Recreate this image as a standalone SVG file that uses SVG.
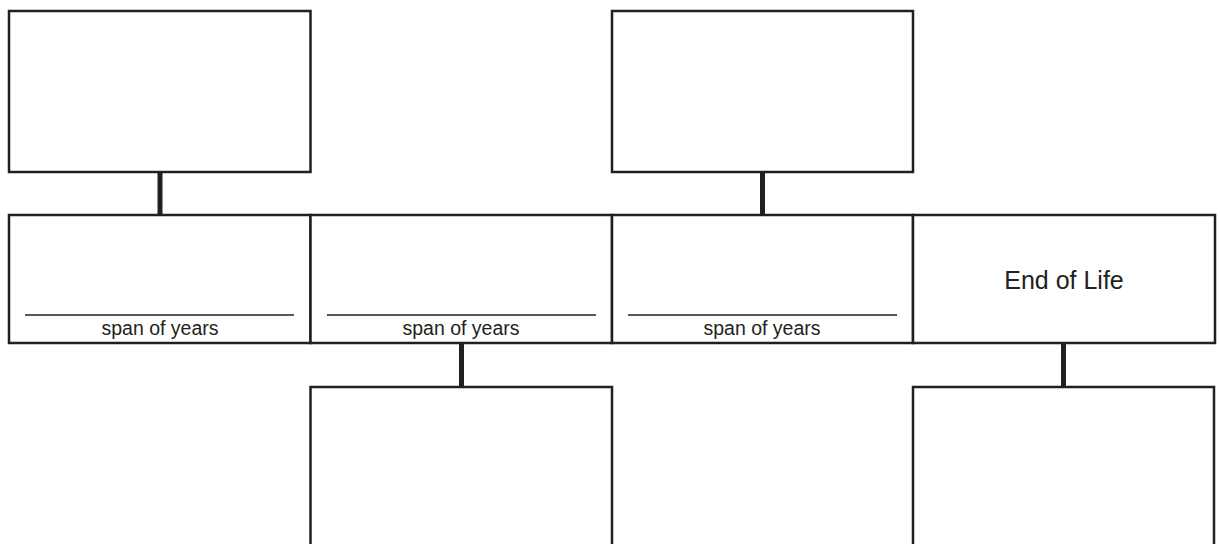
<svg xmlns="http://www.w3.org/2000/svg" width="1220" height="544" viewBox="0 0 1220 544">
<style>
.box{fill:#fff;stroke:#231f20;stroke-width:2.5}
.conn{stroke:#231f20;stroke-width:5}
.line{stroke:#231f20;stroke-width:1.6}
.span{font-family:"Liberation Sans",Arial,sans-serif;font-size:19.5px;fill:#231f20;text-anchor:middle}
.end{font-family:"Liberation Sans",Arial,sans-serif;font-size:25px;fill:#231f20;text-anchor:middle}
</style>
<rect width="1220" height="544" fill="#fff"/>
<g id="connectors">
<line class="conn" x1="160" y1="172" x2="160" y2="215"/>
<line class="conn" x1="762.5" y1="172" x2="762.5" y2="215"/>
<line class="conn" x1="461.5" y1="343" x2="461.5" y2="387"/>
<line class="conn" x1="1063.5" y1="343" x2="1063.5" y2="387"/>
</g>
<g id="top1"><rect class="box" x="9" y="11" width="301.5" height="161"/></g>
<g id="top2"><rect class="box" x="612" y="11" width="301" height="161"/></g>
<g id="period1">
<rect class="box" x="9" y="215" width="301.5" height="128"/>
<line class="line" x1="25" y1="315" x2="294" y2="315"/>
<text class="span" x="160" y="335">span of years</text>
</g>
<g id="period2">
<rect class="box" x="310.5" y="215" width="301.5" height="128"/>
<line class="line" x1="327" y1="315" x2="596" y2="315"/>
<text class="span" x="461" y="335">span of years</text>
</g>
<g id="period3">
<rect class="box" x="612" y="215" width="301" height="128"/>
<line class="line" x1="628" y1="315" x2="897" y2="315"/>
<text class="span" x="762" y="335">span of years</text>
</g>
<g id="endoflife">
<rect class="box" x="913" y="215" width="302" height="128"/>
<text class="end" x="1064" y="289">End of Life</text>
</g>
<g id="bottom1"><rect class="box" x="310.5" y="387" width="301.5" height="180"/></g>
<g id="bottom2"><rect class="box" x="913" y="387" width="301" height="180"/></g>
</svg>
